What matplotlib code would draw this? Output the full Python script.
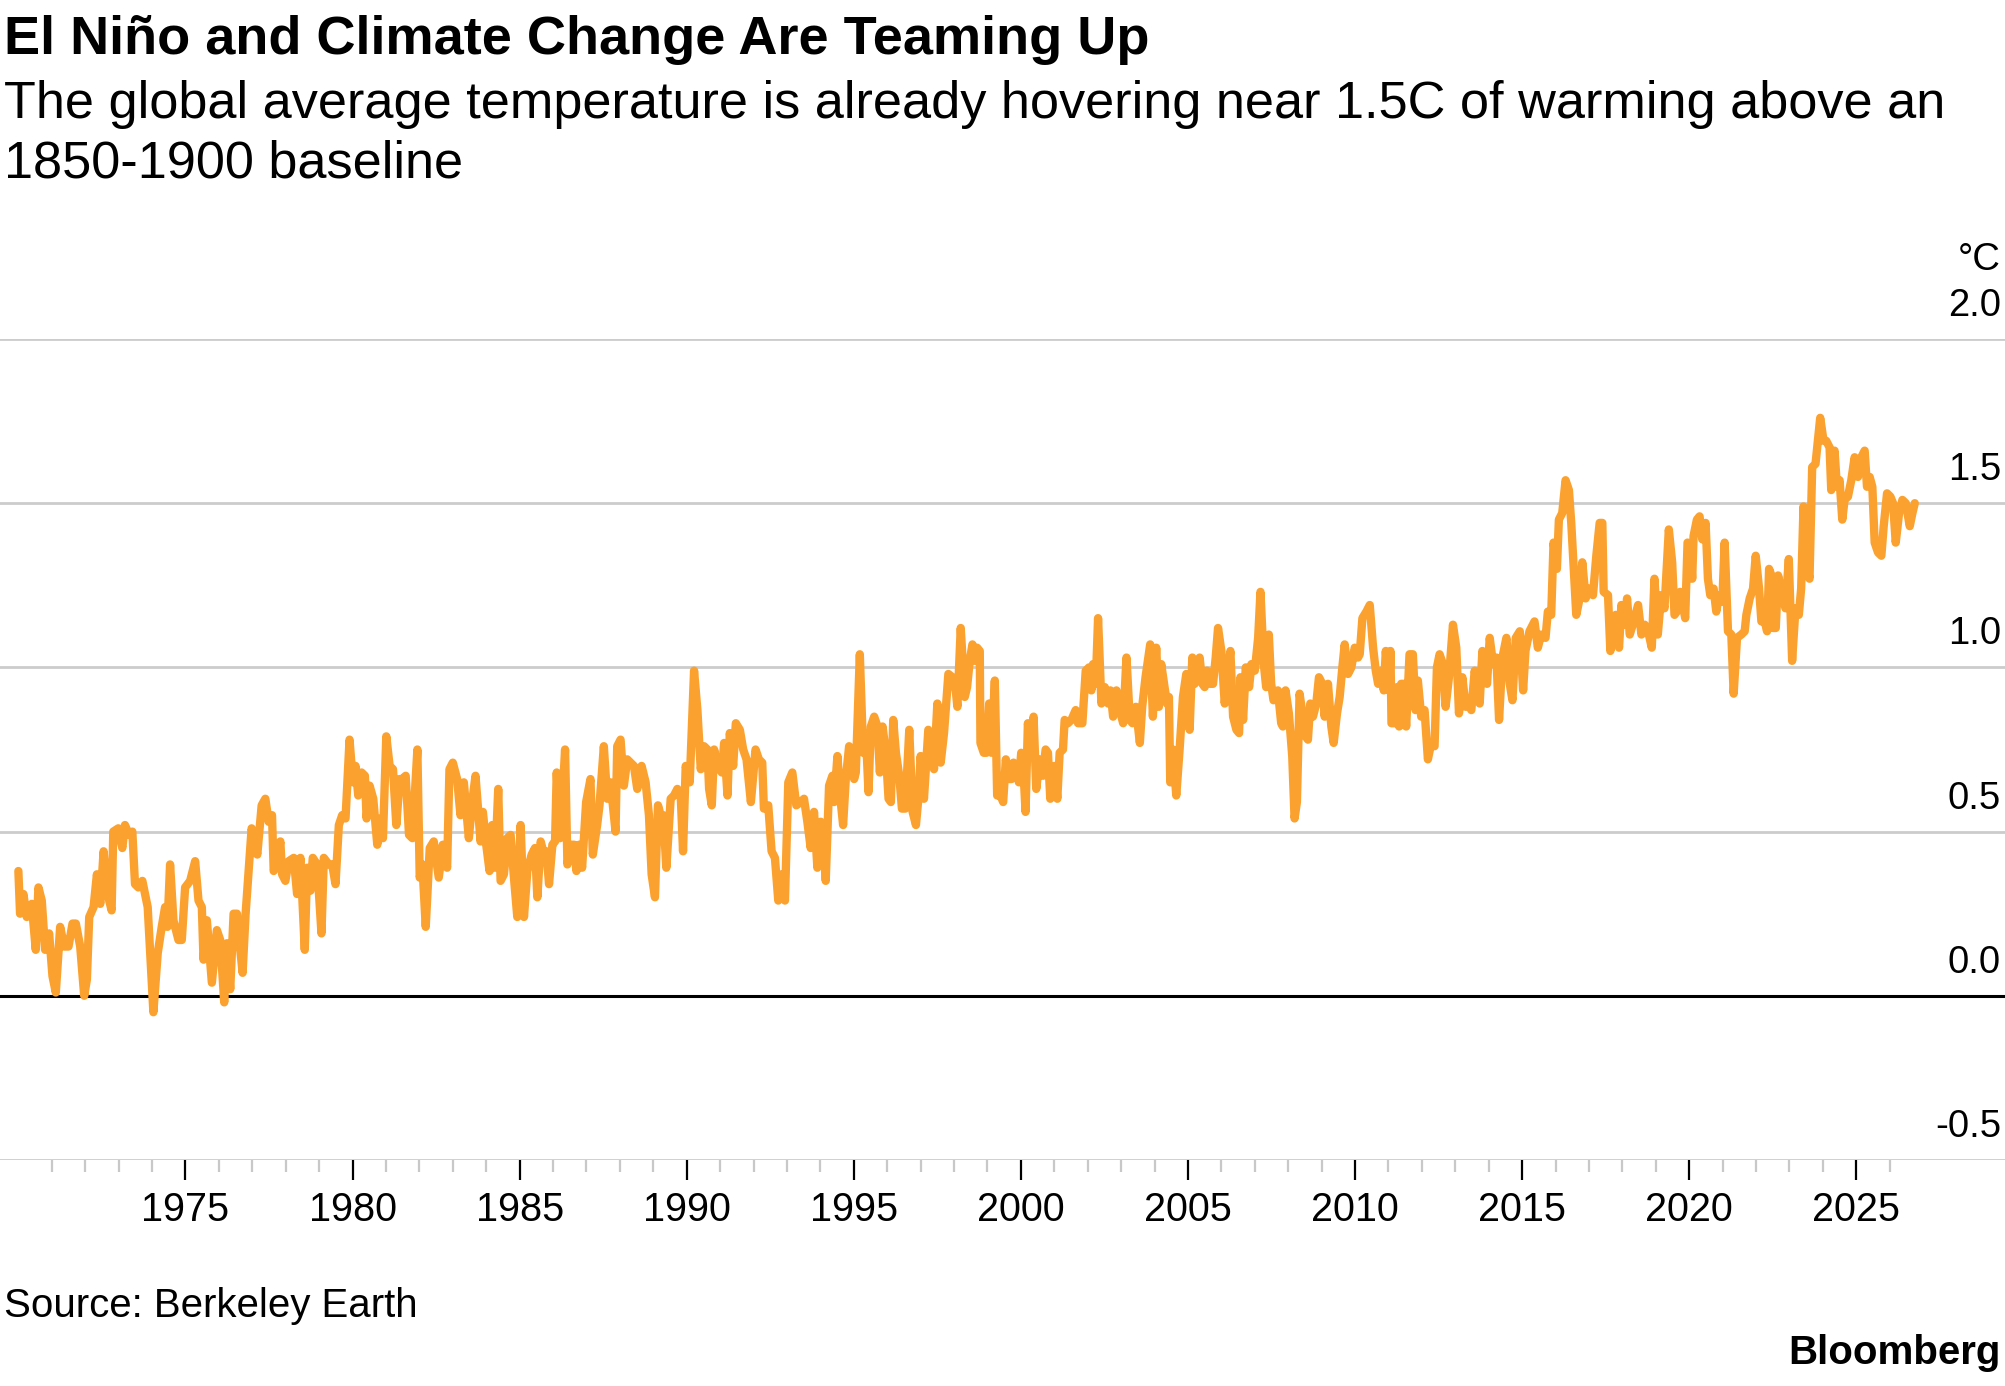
import numpy as np
import matplotlib
matplotlib.use("Agg")
import matplotlib.pyplot as plt
import matplotlib.transforms as mtransforms

plt.rcParams['font.family'] = ['Liberation Sans', 'DejaVu Sans']

# monthly-ish readings of the global temperature anomaly (°C vs 1850-1900)
years = [
    1970.00, 1970.05, 1970.15, 1970.25, 1970.40, 1970.52, 1970.60, 1970.70, 1970.80, 1970.92,
    1971.02, 1971.12, 1971.25, 1971.37, 1971.50, 1971.62, 1971.72, 1971.85, 1971.97, 1972.05,
    1972.12, 1972.25, 1972.35, 1972.45, 1972.55, 1972.67, 1972.79, 1972.84, 1972.99, 1973.11,
    1973.19, 1973.31, 1973.41, 1973.49, 1973.59, 1973.71, 1973.87, 1974.04, 1974.17, 1974.29,
    1974.39, 1974.46, 1974.54, 1974.64, 1974.79, 1974.89, 1974.99, 1975.14, 1975.29, 1975.39,
    1975.49, 1975.54, 1975.64, 1975.79, 1975.94, 1976.04, 1976.16, 1976.24, 1976.34, 1976.44,
    1976.54, 1976.62, 1976.71, 1976.80, 1976.98, 1977.15, 1977.28, 1977.39, 1977.49, 1977.59,
    1977.64, 1977.74, 1977.84, 1977.89, 1977.99, 1978.09, 1978.24, 1978.34, 1978.44, 1978.57,
    1978.64, 1978.74, 1978.81, 1978.94, 1979.07, 1979.14, 1979.29, 1979.39, 1979.49, 1979.59,
    1979.69, 1979.79, 1979.91, 1980.01, 1980.09, 1980.17, 1980.27, 1980.37, 1980.42, 1980.51,
    1980.62, 1980.74, 1980.84, 1980.91, 1981.01, 1981.11, 1981.21, 1981.31, 1981.41, 1981.49,
    1981.59, 1981.69, 1981.79, 1981.94, 1982.01, 1982.09, 1982.19, 1982.31, 1982.43, 1982.58,
    1982.70, 1982.83, 1982.90, 1983.00, 1983.13, 1983.23, 1983.33, 1983.48, 1983.58, 1983.68,
    1983.83, 1983.90, 1984.00, 1984.10, 1984.18, 1984.26, 1984.36, 1984.43, 1984.53, 1984.63,
    1984.73, 1984.83, 1984.93, 1985.03, 1985.13, 1985.23, 1985.36, 1985.46, 1985.53, 1985.63,
    1985.73, 1985.80, 1985.88, 1985.98, 1986.06, 1986.11, 1986.21, 1986.28, 1986.36, 1986.43,
    1986.53, 1986.63, 1986.70, 1986.78, 1986.87, 1986.99, 1987.12, 1987.19, 1987.32, 1987.39,
    1987.52, 1987.62, 1987.72, 1987.87, 1987.92, 1988.02, 1988.12, 1988.22, 1988.32, 1988.42,
    1988.52, 1988.65, 1988.77, 1988.87, 1988.95, 1989.05, 1989.14, 1989.22, 1989.30, 1989.39,
    1989.52, 1989.62, 1989.72, 1989.82, 1989.89, 1989.97, 1990.09, 1990.22, 1990.32, 1990.42,
    1990.52, 1990.62, 1990.67, 1990.75, 1990.82, 1990.92, 1991.05, 1991.12, 1991.22, 1991.29,
    1991.39, 1991.47, 1991.59, 1991.69, 1991.79, 1991.92, 1992.06, 1992.16, 1992.26, 1992.31,
    1992.44, 1992.54, 1992.64, 1992.74, 1992.84, 1992.94, 1993.04, 1993.16, 1993.28, 1993.41,
    1993.51, 1993.61, 1993.71, 1993.81, 1993.91, 1994.01, 1994.08, 1994.16, 1994.26, 1994.36,
    1994.41, 1994.51, 1994.61, 1994.68, 1994.76, 1994.86, 1995.01, 1995.06, 1995.18, 1995.28,
    1995.36, 1995.44, 1995.51, 1995.61, 1995.71, 1995.78, 1995.86, 1995.96, 1996.04, 1996.11,
    1996.18, 1996.26, 1996.36, 1996.44, 1996.54, 1996.66, 1996.76, 1996.86, 1996.94, 1997.00,
    1997.10, 1997.23, 1997.33, 1997.40, 1997.50, 1997.60, 1997.70, 1997.83, 1997.95, 1998.05,
    1998.10, 1998.20, 1998.32, 1998.39, 1998.47, 1998.55, 1998.62, 1998.69, 1998.77, 1998.79,
    1998.89, 1998.97, 1999.05, 1999.12, 1999.22, 1999.29, 1999.39, 1999.47, 1999.55, 1999.65,
    1999.72, 1999.78, 1999.86, 1999.94, 2000.01, 2000.08, 2000.14, 2000.21, 2000.31, 2000.38,
    2000.46, 2000.56, 2000.66, 2000.74, 2000.81, 2000.88, 2001.01, 2001.09, 2001.16, 2001.26,
    2001.31, 2001.41, 2001.51, 2001.64, 2001.71, 2001.84, 2001.94, 2002.04, 2002.11, 2002.16,
    2002.24, 2002.31, 2002.41, 2002.51, 2002.61, 2002.68, 2002.76, 2002.86, 2002.96, 2003.06,
    2003.16, 2003.26, 2003.34, 2003.44, 2003.56, 2003.63, 2003.73, 2003.87, 2003.95, 2004.05,
    2004.13, 2004.20, 2004.30, 2004.37, 2004.43, 2004.47, 2004.55, 2004.65, 2004.75, 2004.85,
    2004.95, 2005.05, 2005.13, 2005.20, 2005.35, 2005.43, 2005.50, 2005.57, 2005.65, 2005.75,
    2005.83, 2005.90, 2006.00, 2006.10, 2006.17, 2006.27, 2006.35, 2006.45, 2006.53, 2006.57,
    2006.65, 2006.73, 2006.83, 2006.90, 2007.00, 2007.10, 2007.17, 2007.27, 2007.34, 2007.42,
    2007.49, 2007.56, 2007.69, 2007.79, 2007.84, 2007.92, 2008.02, 2008.12, 2008.19, 2008.26,
    2008.34, 2008.44, 2008.52, 2008.59, 2008.66, 2008.74, 2008.84, 2008.92, 2009.02, 2009.09,
    2009.19, 2009.29, 2009.36, 2009.46, 2009.54, 2009.62, 2009.69, 2009.79, 2009.89, 2009.99,
    2010.09, 2010.14, 2010.22, 2010.34, 2010.44, 2010.54, 2010.62, 2010.69, 2010.79, 2010.86,
    2010.92, 2011.02, 2011.06, 2011.09, 2011.19, 2011.26, 2011.32, 2011.38, 2011.45, 2011.53,
    2011.63, 2011.73, 2011.81, 2011.88, 2011.98, 2012.08, 2012.18, 2012.28, 2012.38, 2012.45,
    2012.53, 2012.63, 2012.71, 2012.81, 2012.93, 2013.03, 2013.11, 2013.21, 2013.31, 2013.38,
    2013.48, 2013.58, 2013.65, 2013.73, 2013.81, 2013.88, 2013.95, 2014.03, 2014.13, 2014.23,
    2014.31, 2014.41, 2014.53, 2014.63, 2014.71, 2014.81, 2014.93, 2015.03, 2015.10, 2015.22,
    2015.37, 2015.47, 2015.57, 2015.70, 2015.77, 2015.87, 2015.94, 2016.04, 2016.10, 2016.20,
    2016.30, 2016.40, 2016.47, 2016.54, 2016.62, 2016.72, 2016.80, 2016.90, 2017.00, 2017.12,
    2017.22, 2017.32, 2017.40, 2017.44, 2017.57, 2017.64, 2017.72, 2017.80, 2017.90, 2017.97,
    2018.07, 2018.14, 2018.22, 2018.34, 2018.47, 2018.57, 2018.67, 2018.77, 2018.88, 2018.96,
    2019.06, 2019.16, 2019.26, 2019.39, 2019.49, 2019.56, 2019.63, 2019.73, 2019.81, 2019.88,
    2019.95, 2020.03, 2020.09, 2020.13, 2020.23, 2020.31, 2020.39, 2020.49, 2020.56, 2020.63,
    2020.73, 2020.81, 2020.89, 2020.99, 2021.06, 2021.16, 2021.26, 2021.33, 2021.43, 2021.56,
    2021.66, 2021.71, 2021.81, 2021.91, 2021.99, 2022.09, 2022.16, 2022.26, 2022.33, 2022.39,
    2022.46, 2022.51, 2022.59, 2022.66, 2022.76, 2022.88, 2022.98, 2023.08, 2023.18, 2023.28,
    2023.35, 2023.42, 2023.50, 2023.60, 2023.68, 2023.78, 2023.85, 2023.92, 2024.02, 2024.10,
    2024.20, 2024.25, 2024.35, 2024.42, 2024.50, 2024.58, 2024.65, 2024.75, 2024.85, 2024.95,
    2025.05, 2025.15, 2025.25, 2025.32, 2025.40, 2025.48, 2025.55, 2025.65, 2025.75, 2025.82,
    2025.92, 2026.02, 2026.10, 2026.18, 2026.28, 2026.38, 2026.48, 2026.60, 2026.68, 2026.75,
]
temps = [
    0.38, 0.25, 0.31, 0.24, 0.28, 0.14, 0.33, 0.29, 0.14, 0.19,
    0.06, 0.01, 0.21, 0.15, 0.15, 0.22, 0.22, 0.15, 0.00, 0.05,
    0.24, 0.27, 0.37, 0.28, 0.44, 0.31, 0.26, 0.50, 0.51, 0.45,
    0.52, 0.49, 0.50, 0.34, 0.33, 0.35, 0.27, -0.05, 0.13, 0.21,
    0.27, 0.21, 0.40, 0.23, 0.17, 0.17, 0.33, 0.35, 0.41, 0.29,
    0.27, 0.11, 0.23, 0.04, 0.20, 0.17, -0.02, 0.16, 0.02, 0.25,
    0.25, 0.16, 0.07, 0.25, 0.51, 0.43, 0.58, 0.60, 0.53, 0.55,
    0.38, 0.41, 0.47, 0.37, 0.35, 0.41, 0.42, 0.31, 0.42, 0.14,
    0.39, 0.32, 0.42, 0.40, 0.19, 0.42, 0.40, 0.40, 0.34, 0.52,
    0.55, 0.54, 0.78, 0.65, 0.70, 0.61, 0.68, 0.67, 0.54, 0.64,
    0.60, 0.46, 0.54, 0.48, 0.79, 0.70, 0.69, 0.52, 0.66, 0.66,
    0.67, 0.49, 0.48, 0.75, 0.36, 0.40, 0.21, 0.45, 0.47, 0.36,
    0.46, 0.39, 0.69, 0.71, 0.66, 0.55, 0.65, 0.48, 0.59, 0.67,
    0.47, 0.56, 0.46, 0.38, 0.52, 0.39, 0.63, 0.35, 0.37, 0.48,
    0.49, 0.36, 0.24, 0.52, 0.24, 0.38, 0.43, 0.45, 0.30, 0.47,
    0.43, 0.44, 0.34, 0.46, 0.47, 0.68, 0.48, 0.60, 0.75, 0.40,
    0.46, 0.46, 0.38, 0.46, 0.39, 0.59, 0.66, 0.43, 0.52, 0.58,
    0.76, 0.60, 0.65, 0.50, 0.76, 0.78, 0.64, 0.72, 0.71, 0.70,
    0.63, 0.70, 0.65, 0.55, 0.37, 0.30, 0.58, 0.55, 0.55, 0.39,
    0.60, 0.61, 0.63, 0.61, 0.44, 0.70, 0.65, 0.99, 0.87, 0.69,
    0.76, 0.75, 0.63, 0.58, 0.75, 0.70, 0.68, 0.77, 0.61, 0.80,
    0.70, 0.83, 0.81, 0.75, 0.72, 0.59, 0.75, 0.72, 0.71, 0.57,
    0.58, 0.44, 0.42, 0.29, 0.37, 0.29, 0.65, 0.68, 0.58, 0.59,
    0.60, 0.53, 0.45, 0.56, 0.39, 0.53, 0.52, 0.35, 0.64, 0.67,
    0.59, 0.73, 0.59, 0.52, 0.66, 0.76, 0.66, 0.68, 1.04, 0.74,
    0.80, 0.62, 0.82, 0.85, 0.82, 0.68, 0.82, 0.74, 0.60, 0.59,
    0.84, 0.74, 0.67, 0.57, 0.57, 0.81, 0.56, 0.52, 0.61, 0.73,
    0.60, 0.81, 0.78, 0.69, 0.89, 0.71, 0.80, 0.98, 0.97, 0.93,
    0.88, 1.12, 0.91, 0.94, 1.02, 1.07, 1.02, 1.06, 1.05, 0.77,
    0.74, 0.74, 0.89, 0.74, 0.96, 0.61, 0.61, 0.59, 0.72, 0.66,
    0.66, 0.71, 0.70, 0.65, 0.74, 0.68, 0.56, 0.83, 0.75, 0.85,
    0.63, 0.72, 0.67, 0.75, 0.74, 0.60, 0.70, 0.60, 0.74, 0.75,
    0.84, 0.83, 0.84, 0.87, 0.83, 0.83, 0.99, 1.00, 0.93, 1.01,
    0.95, 1.15, 0.89, 0.94, 0.89, 0.93, 0.85, 0.93, 0.87, 0.83,
    1.03, 0.84, 0.83, 0.88, 0.77, 0.88, 0.97, 1.07, 0.85, 1.06,
    0.88, 1.01, 0.94, 0.89, 0.91, 0.65, 0.75, 0.61, 0.75, 0.91,
    0.98, 0.81, 1.03, 0.95, 1.03, 0.95, 0.94, 0.99, 0.95, 0.95,
    1.03, 1.12, 1.05, 0.89, 0.96, 1.05, 0.85, 0.81, 0.80, 0.97,
    0.84, 1.00, 0.94, 1.01, 0.99, 1.09, 1.23, 1.01, 0.94, 1.10,
    0.95, 0.90, 0.93, 0.83, 0.82, 0.93, 0.86, 0.73, 0.54, 0.59,
    0.92, 0.85, 0.79, 0.78, 0.89, 0.85, 0.89, 0.97, 0.95, 0.85,
    0.95, 0.82, 0.77, 0.86, 0.91, 1.00, 1.07, 0.98, 1.00, 1.06,
    1.03, 1.04, 1.15, 1.17, 1.19, 1.06, 0.99, 0.95, 0.99, 0.93,
    1.05, 0.93, 1.05, 0.83, 0.83, 0.94, 0.82, 0.95, 0.95, 0.82,
    1.04, 1.04, 0.87, 0.96, 0.85, 0.87, 0.72, 0.77, 0.76, 1.00,
    1.04, 1.01, 0.88, 0.97, 1.13, 1.06, 0.86, 0.97, 0.88, 0.89,
    0.87, 0.99, 0.95, 0.89, 1.05, 1.00, 0.95, 1.09, 1.01, 1.03,
    0.84, 1.03, 1.09, 0.95, 0.90, 1.09, 1.11, 0.93, 1.05, 1.11,
    1.14, 1.06, 1.10, 1.09, 1.17, 1.16, 1.38, 1.30, 1.45, 1.47,
    1.57, 1.54, 1.44, 1.31, 1.16, 1.21, 1.32, 1.21, 1.24, 1.22,
    1.34, 1.44, 1.44, 1.23, 1.22, 1.05, 1.11, 1.16, 1.06, 1.19,
    1.13, 1.21, 1.10, 1.14, 1.19, 1.10, 1.13, 1.11, 1.06, 1.27,
    1.10, 1.22, 1.18, 1.42, 1.32, 1.16, 1.17, 1.23, 1.19, 1.15,
    1.38, 1.37, 1.27, 1.40, 1.45, 1.46, 1.39, 1.44, 1.27, 1.22,
    1.24, 1.17, 1.22, 1.20, 1.38, 1.11, 1.10, 0.92, 1.09, 1.10,
    1.11, 1.16, 1.21, 1.24, 1.34, 1.24, 1.14, 1.14, 1.11, 1.30,
    1.28, 1.12, 1.12, 1.28, 1.23, 1.18, 1.33, 1.02, 1.18, 1.16,
    1.24, 1.49, 1.33, 1.27, 1.61, 1.62, 1.69, 1.76, 1.69, 1.69,
    1.67, 1.54, 1.66, 1.55, 1.57, 1.45, 1.51, 1.52, 1.57, 1.64,
    1.58, 1.64, 1.66, 1.55, 1.58, 1.55, 1.38, 1.35, 1.34, 1.43,
    1.53, 1.52, 1.50, 1.38, 1.47, 1.51, 1.50, 1.43, 1.47, 1.50,
]

y_ticks = [-0.5, 0.0, 0.5, 1.0, 1.5, 2.0]
y_labels = ['-0.5', '0.0', '0.5', '1.0', '1.5', '2.0']
x_major = [1975, 1980, 1985, 1990, 1995, 2000, 2005, 2010, 2015, 2020, 2025]
x_minor = [y for y in range(1971, 2027) if y % 5 != 0]

W, H = 2005, 1386
fig = plt.figure(figsize=(W / 100, H / 100), dpi=100)
ax = fig.add_axes([0, (H - 1160) / H, 1, (1160 - 339) / H])
ax.set_xlim(1969.45, 2029.45)
ax.set_ylim(-0.5, 2.0)

for v in y_ticks:
    if v == 0:
        ax.axhline(v, color='black', lw=2.2, zorder=2)
    else:
        ax.axhline(v, color='#cccccc', lw=2.0, zorder=1)

ax.plot(years, temps, color='#fba12f', lw=6.0, solid_joinstyle='round',
        solid_capstyle='round', zorder=3)

for s in ax.spines.values():
    s.set_visible(False)

ax.set_yticks([])
ax.set_xticks(x_major)
ax.set_xticklabels([str(y) for y in x_major], fontsize=28.5)
ax.set_xticks(x_minor, minor=True)
ax.tick_params(axis='x', which='major', length=14.4, width=1.6, color='black', pad=8)
ax.tick_params(axis='x', which='minor', length=8.6, width=1.6, color='#c8c8c8')

# value labels sit above each grid line, flush right
trans = mtransforms.blended_transform_factory(ax.transAxes, ax.transData)
trans = mtransforms.offset_copy(trans, fig=fig, x=-4, y=23, units='dots')
for v, lab in zip(y_ticks, y_labels):
    ax.text(1.0, v, lab, transform=trans, ha='right', va='baseline', fontsize=27.5)

fig.text(2001 / W, 1 - 270 / H, '°C', ha='right', va='baseline', fontsize=27.5)

fig.text(4 / W, 1 - 54 / H, 'El Niño and Climate Change Are Teaming Up',
         fontsize=39, fontweight='bold', ha='left', va='baseline')
fig.text(4 / W, 1 - 118 / H,
         'The global average temperature is already hovering near 1.5C of warming above an',
         fontsize=37.6, ha='left', va='baseline')
fig.text(4 / W, 1 - 178 / H, '1850-1900 baseline', fontsize=37.6, ha='left', va='baseline')

fig.text(4 / W, 1 - 1317 / H, 'Source: Berkeley Earth', fontsize=29, ha='left', va='baseline')
fig.text(2001 / W, 1 - 1364 / H, 'Bloomberg', fontsize=29, fontweight='bold',
         ha='right', va='baseline')

fig.savefig('out.png', dpi=100)
